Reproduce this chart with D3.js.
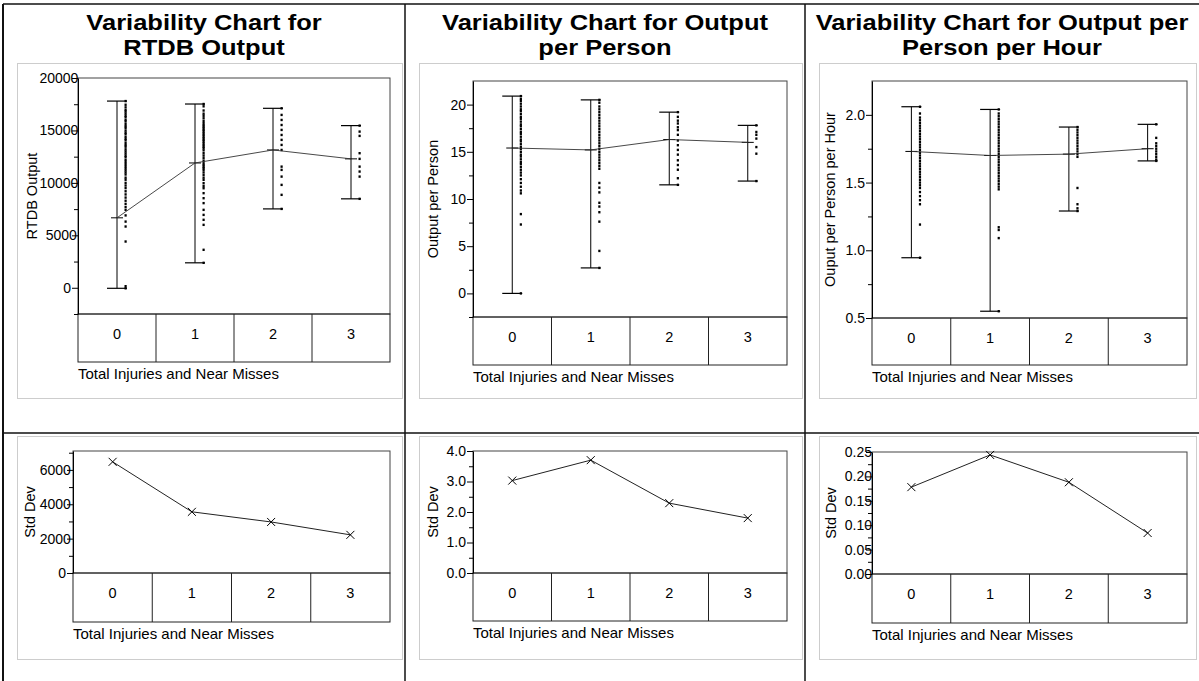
<!DOCTYPE html>
<html>
<head>
<meta charset="utf-8">
<script src="https://cdn.jsdelivr.net/npm/d3@7"></script>
<style>
  body { margin: 0; background: #fff; }
  svg text { font-family: "Liberation Sans", Arial, sans-serif; }
</style>
</head>
<body>
<svg id="chart" width="1199" height="681"></svg>
<script>
// ---- categories and labels ----
const groups = ["0", "1", "2", "3"];
const xTitle = "Total Injuries and Near Misses";
const stdLabel = "Std Dev";

const titleRtdb = ["Variability Chart for", "RTDB Output"];
const titlePerson = ["Variability Chart for Output", "per Person"];
const titleHour = ["Variability Chart for Output per", "Person per Hour"];

// ---- RTDB Output: individual observations per group ----
const rtdbG0 = [17800, 17450, 17200, 16950, 16800, 16600, 16400, 16250, 16000, 15850, 15600, 15400, 15250, 15000,
  14800, 14650, 14400, 14200, 14050, 13800, 13600, 13450, 13200, 13000, 12800, 12600, 12450, 12200, 12000, 11800,
  11600, 11400, 11200, 11000, 10800, 10500, 10300, 10000, 9750, 9500, 9200, 8900, 8600, 8300, 8000, 7700, 7430,
  6900, 6310, 5840, 4410, 150, -50];
const rtdbG1 = [17520, 17300, 16900, 16600, 16400, 16160, 15900, 15690, 15500, 15360, 15200, 15050, 14900, 14730,
  14570, 14410, 14250, 14100, 13950, 13780, 13600, 13450, 13300, 13100, 12830, 12600, 12350, 12100, 11870, 11700,
  11550, 11400, 11240, 11000, 10760, 10500, 10290, 9970, 9700, 9490, 9020, 8540, 8070, 7430, 6950, 6480, 6000,
  3620, 2380];
const rtdbG2 = [17110, 16480, 16000, 15520, 15050, 14570, 14100, 13620, 13140, 11550, 11240, 10600, 9810, 8860, 7520];
const rtdbG3 = [15460, 14890, 14480, 12830, 12290, 11550, 11080, 10600, 8480];
const rtdbMeans = [6670, 11900, 13140, 12290];
const rtdbStd = [6470, 3560, 2970, 2220];
const rtdbTicks = [0, 5000, 10000, 15000, 20000];
const rtdbMinor = [-2500, 2500, 7500, 12500, 17500];
const rtdbStdTicks = [0, 2000, 4000, 6000];
const rtdbStdMinor = [1000, 3000, 5000, 7000];

// ---- Output per Person ----
const personG0 = [20.9, 20.6, 20.4, 20.1, 19.8, 19.5, 19.3, 19.0, 18.7, 18.5, 18.2, 17.9, 17.7, 17.4, 17.1, 16.9,
  16.6, 16.3, 16.1, 15.8, 15.5, 15.3, 15.0, 14.7, 14.5, 14.2, 13.9, 13.7, 13.4, 13.1, 12.8, 12.5, 12.1, 11.7, 11.3,
  10.9, 10.6, 8.4, 7.3, 0.0];
const personG1 = [20.5, 20.2, 19.8, 19.5, 19.2, 18.9, 18.6, 18.3, 18.0, 17.7, 17.4, 17.1, 16.8, 16.5, 16.2, 15.9,
  15.6, 15.3, 15.0, 14.7, 14.4, 14.1, 13.8, 13.5, 13.2, 11.7, 11.2, 10.7, 9.6, 9.2, 8.6, 7.6, 4.5, 2.7];
const personG2 = [19.2, 18.7, 18.3, 18.0, 17.6, 17.3, 16.8, 16.2, 15.7, 15.2, 14.7, 14.1, 13.6, 13.1, 12.2, 11.5];
const personG3 = [17.8, 17.1, 16.8, 16.4, 15.5, 14.8, 11.9];
const personMeans = [15.4, 15.2, 16.3, 16.0];
const personStd = [3.03, 3.7, 2.29, 1.8];
const personTicks = [0, 5, 10, 15, 20];
const personMinor = [-2.5, 2.5, 7.5, 12.5, 17.5];
const personStdTicks = [0, 1, 2, 3, 4];
const personStdMinor = [0.5, 1.5, 2.5, 3.5];

// ---- Output per Person per Hour ----
const hourG0 = [2.06, 2.01, 1.98, 1.96, 1.94, 1.92, 1.90, 1.88, 1.86, 1.84, 1.82, 1.80, 1.78, 1.76, 1.74, 1.72,
  1.70, 1.68, 1.66, 1.64, 1.62, 1.60, 1.58, 1.56, 1.54, 1.52, 1.50, 1.48, 1.46, 1.43, 1.40, 1.37, 1.34, 1.19, 0.945];
const hourG1 = [2.04, 2.01, 1.99, 1.97, 1.95, 1.93, 1.91, 1.89, 1.87, 1.85, 1.83, 1.81, 1.79, 1.77, 1.75, 1.73,
  1.71, 1.69, 1.67, 1.65, 1.63, 1.61, 1.59, 1.57, 1.55, 1.53, 1.51, 1.49, 1.47, 1.45, 1.17, 1.15, 1.09, 0.55];
const hourG2 = [1.91, 1.89, 1.87, 1.85, 1.83, 1.81, 1.79, 1.77, 1.75, 1.73, 1.71, 1.69, 1.46, 1.34, 1.31, 1.29];
const hourG3 = [1.93, 1.83, 1.79, 1.77, 1.75, 1.73, 1.71, 1.69, 1.67, 1.66];
const hourMeans = [1.73, 1.70, 1.71, 1.75];
const hourStd = [0.178, 0.244, 0.188, 0.084];
const hourTicks = [0.5, 1.0, 1.5, 2.0];
const hourMinor = [0.75, 1.25, 1.75];
const hourStdTicks = [0, 0.05, 0.10, 0.15, 0.20, 0.25];
const hourStdMinor = [0.025, 0.075, 0.125, 0.175, 0.225];

// ---- panel layout ----
const panels = [
  {
    title: titleRtdb, yLabel: "RTDB Output", cell: [3, 405],
    points: [rtdbG0, rtdbG1, rtdbG2, rtdbG3], means: rtdbMeans, std: rtdbStd,
    top: { l: 78, r: 390, t: 78, b: 314, bb: 362, domain: [-2500, 20000], ticks: rtdbTicks, minor: rtdbMinor,
           fmt: d3.format("d"), overflow: 1.6, labelX: 37 },
    bottom: { l: 73, r: 390, t: 451, b: 573, bb: 622, domain: [0, 7100], ticks: rtdbStdTicks, minor: rtdbStdMinor,
              fmt: d3.format("d"), overflow: 1.3, labelX: 35 }
  },
  {
    title: titlePerson, yLabel: "Output per Person", cell: [405, 805],
    points: [personG0, personG1, personG2, personG3], means: personMeans, std: personStd,
    top: { l: 473, r: 787, t: 81, b: 317, bb: 365, domain: [-2.5, 22.5], ticks: personTicks, minor: personMinor,
           fmt: d3.format("d"), overflow: 0, labelX: 438 },
    bottom: { l: 473, r: 787, t: 451, b: 573, bb: 621, domain: [0, 4], ticks: personStdTicks, minor: personStdMinor,
              fmt: d3.format(".1f"), overflow: 0, labelX: 438 }
  },
  {
    title: titleHour, yLabel: "Ouput per Person per Hour", cell: [805, 1199],
    points: [hourG0, hourG1, hourG2, hourG3], means: hourMeans, std: hourStd,
    top: { l: 872, r: 1187, t: 81, b: 318, bb: 365, domain: [0.5, 2.25], ticks: hourTicks, minor: hourMinor,
           fmt: d3.format(".1f"), overflow: 0, labelX: 835 },
    bottom: { l: 872, r: 1187, t: 452, b: 574, bb: 623, domain: [0, 0.25], ticks: hourStdTicks, minor: hourStdMinor,
              fmt: d3.format(".2f"), overflow: 2, labelX: 836 }
  }
];

const svg = d3.select("#chart");
svg.append("rect").attr("width", 1199).attr("height", 681).attr("fill", "#fff");

// dotted report outlines
const outlines = svg.append("g").attr("fill", "none").attr("stroke", "#9a9a9a")
  .attr("stroke-width", 1).attr("stroke-dasharray", "1,1");
panels.forEach(p => {
  const [cl, cr] = p.cell;
  outlines.append("rect").attr("x", cl + 14.5).attr("y", 63.5).attr("width", cr - cl - 17).attr("height", 335);
  outlines.append("rect").attr("x", cl + 14.5).attr("y", 436.5).attr("width", cr - cl - 17).attr("height", 223);
});

// solid table rules
const rules = svg.append("g").attr("stroke", "#111").attr("fill", "none");
rules.append("line").attr("x1", 3).attr("y1", 4).attr("x2", 1199).attr("y2", 4).attr("stroke-width", 1.5);
rules.append("line").attr("x1", 3).attr("y1", 4).attr("x2", 3).attr("y2", 681).attr("stroke-width", 2);
rules.append("line").attr("x1", 405).attr("y1", 4).attr("x2", 405).attr("y2", 681).attr("stroke-width", 1.5);
rules.append("line").attr("x1", 805).attr("y1", 4).attr("x2", 805).attr("y2", 681).attr("stroke-width", 1.5);
rules.append("line").attr("x1", 3).attr("y1", 433).attr("x2", 1199).attr("y2", 433).attr("stroke-width", 1.5);

function frame(g, L, x) {
  // plot border
  g.append("rect").attr("x", L.l).attr("y", L.t).attr("width", L.r - L.l).attr("height", L.b - L.t)
    .attr("fill", "none").attr("stroke", "#444").attr("stroke-width", 1);
  // category table under the plot
  g.append("rect").attr("x", L.l).attr("y", L.b).attr("width", L.r - L.l).attr("height", L.bb - L.b)
    .attr("fill", "none").attr("stroke", "#222").attr("stroke-width", 1);
  g.selectAll(".divider").data(groups.slice(1)).join("line")
    .attr("x1", d => x(d)).attr("x2", d => x(d)).attr("y1", L.b).attr("y2", L.bb)
    .attr("stroke", "#222").attr("stroke-width", 1);
  g.selectAll(".cat").data(groups).join("text")
    .attr("x", d => x(d) + x.bandwidth() / 2).attr("y", L.b + 25)
    .attr("text-anchor", "middle").attr("font-size", 14.5).attr("fill", "#000").text(d => d);
  g.append("text").attr("x", L.l).attr("y", L.bb + 17).attr("font-size", 15).attr("fill", "#000").text(xTitle);
}

function yAxis(g, L, y, label) {
  const ax = g.append("g").attr("transform", `translate(${L.l},0)`)
    .call(d3.axisLeft(y).tickValues(L.ticks).tickSize(6).tickSizeOuter(0).tickPadding(1).tickFormat(L.fmt));
  ax.attr("font-family", null).attr("font-size", 14);
  ax.select(".domain").attr("stroke", "#000");
  ax.selectAll(".tick line").attr("stroke", "#000");
  ax.selectAll(".tick text").attr("fill", "#000")
    .attr("dx", d => { const n = L.fmt(d).length; return n > 1 ? L.overflow * (n - 1) + (L.overflow ? 1 : 0) : 0; });
  const mn = g.append("g").attr("transform", `translate(${L.l},0)`)
    .call(d3.axisLeft(y).tickValues(L.minor).tickSize(4).tickSizeOuter(0).tickFormat(""));
  mn.select(".domain").remove();
  mn.selectAll(".tick line").attr("stroke", "#000");
  g.append("text")
    .attr("transform", `translate(${L.labelX},${(L.t + L.b) / 2}) rotate(-90)`)
    .attr("text-anchor", "middle").attr("font-size", 14.5).attr("fill", "#000").text(label);
}

panels.forEach(p => {
  const [cl, cr] = p.cell;
  const cxCell = (cl + cr) / 2;

  // two-line bold title, set in a wide face
  p.title.forEach((line, i) => {
    svg.append("g").attr("transform", `translate(${cxCell},${30 + i * 25}) scale(1.16,1)`)
      .append("text").attr("x", 0).attr("y", 0)
      .attr("text-anchor", "middle").attr("font-size", 22).attr("font-weight", "bold")
      .attr("fill", "#000").text(line);
  });

  // ---- variability chart ----
  const L = p.top;
  const x = d3.scaleBand().domain(groups).range([L.l, L.r]);
  const y = d3.scaleLinear().domain(L.domain).range([L.b, L.t]);
  const cx = g => x(g) + x.bandwidth() / 2;
  const g = svg.append("g");
  frame(g, L, x);
  yAxis(g, L, y, p.yLabel);

  groups.forEach((grp, i) => {
    const vals = p.points[i];
    const [lo, hi] = d3.extent(vals);
    const c = cx(grp);
    // range bar with caps
    g.append("line").attr("x1", c).attr("x2", c).attr("y1", y(lo)).attr("y2", y(hi))
      .attr("stroke", "#000").attr("stroke-width", 1);
    [lo, hi].forEach(v => g.append("line").attr("x1", c - 10).attr("x2", c + 10)
      .attr("y1", y(v)).attr("y2", y(v)).attr("stroke", "#000").attr("stroke-width", 1.2));
    // mean tick
    g.append("line").attr("x1", c - 6).attr("x2", c + 6)
      .attr("y1", y(p.means[i])).attr("y2", y(p.means[i])).attr("stroke", "#000").attr("stroke-width", 1);
    // observations
    g.selectAll(null).data(vals).join("rect")
      .attr("x", c + 7.5).attr("y", d => y(d) - 1.2).attr("width", 2.2).attr("height", 2.4).attr("fill", "#000");
  });
  // group means connected
  g.append("path").datum(p.means)
    .attr("d", d3.line().x((d, i) => cx(groups[i])).y(d => y(d)))
    .attr("fill", "none").attr("stroke", "#333").attr("stroke-width", 0.9);

  // ---- std dev chart ----
  const B = p.bottom;
  const xb = d3.scaleBand().domain(groups).range([B.l, B.r]);
  const yb = d3.scaleLinear().domain(B.domain).range([B.b, B.t]);
  const cxb = g => xb(g) + xb.bandwidth() / 2;
  const gb = svg.append("g");
  frame(gb, B, xb);
  yAxis(gb, B, yb, stdLabel);
  gb.append("path").datum(p.std)
    .attr("d", d3.line().x((d, i) => cxb(groups[i])).y(d => yb(d)))
    .attr("fill", "none").attr("stroke", "#222").attr("stroke-width", 1);
  const m = 4;
  gb.selectAll(".mark").data(p.std).join("path")
    .attr("d", (d, i) => {
      const px = cxb(groups[i]), py = yb(d);
      return `M${px - m},${py - m}L${px + m},${py + m}M${px - m},${py + m}L${px + m},${py - m}`;
    })
    .attr("stroke", "#000").attr("stroke-width", 1).attr("fill", "none");
});
</script>
</body>
</html>
